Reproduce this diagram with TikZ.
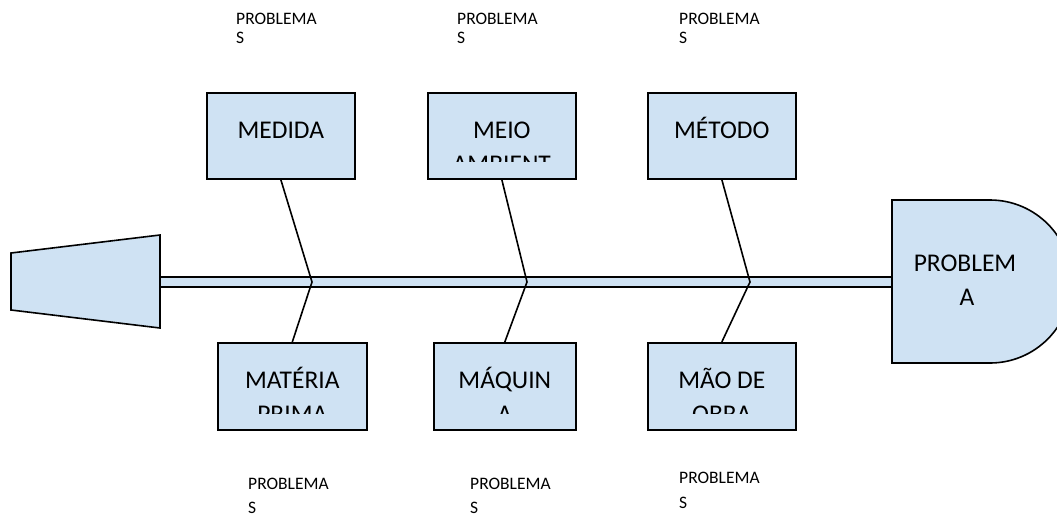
\documentclass[tikz,border=0pt]{standalone}
\usepackage{fontspec}
\setmainfont{Carlito}
\definecolor{boxblue}{HTML}{CFE2F3}
\tikzset{
  bone/.style={line width=1.6pt, draw=black},
  outline/.style={draw=black, line width=1.6pt, fill=boxblue},
  fishbox/.style={outline, inner sep=0pt, anchor=north west, minimum height=86pt},
  boxtext/.style={font=\fontsize{25.5}{30}\selectfont, inner sep=0pt, anchor=base},
  lbl/.style={font=\fontsize{17.5}{20}\selectfont, inner sep=0pt, anchor=base west},
}
\begin{document}
\begin{tikzpicture}[x=1pt,y=-1pt]
\useasboundingbox (0,0) rectangle (1057,517);
\clip (0,0) rectangle (1057,517);
% spine
\node[outline, line width=1.2pt, minimum width=733pt, minimum height=10pt, inner sep=0pt, anchor=west] (spine) at (160,282) {};
% tail
\draw[outline] (11,253) -- (160,235) -- (160,328) -- (11,310) -- cycle;
% head
\draw[outline] (892,200) -- (990,200) arc[start angle=90, end angle=-90, radius=81.5pt] -- (892,363) -- cycle;
\node[boxtext] (headA) at (965,271.5) {PROBLEM};
\node[boxtext] (headB) at (967,305) {A};
% boxes
\node[fishbox, minimum width=148pt] (medida) at (206,92) {};
\node[fishbox, minimum width=148pt] (meio) at (427,92) {};
\node[fishbox, minimum width=148pt] (metodo) at (647,92) {};
\node[fishbox, minimum width=149pt, minimum height=87pt] (materia) at (217,342) {};
\node[fishbox, minimum width=142pt, minimum height=87pt] (maquina) at (433,342) {};
\node[fishbox, minimum width=148pt, minimum height=87pt] (maodeobra) at (647,342) {};
% box texts (clipped like overflowing text boxes)
\begin{scope}
  \clip (medida.north west) rectangle ([yshift=18pt]medida.south east);
  \node[boxtext] (medidaT) at ([yshift=-46pt]medida.north) {MEDIDA};
\end{scope}
\begin{scope}
  \clip (meio.north west) rectangle ([yshift=18pt]meio.south east);
  \node[boxtext] (meioT) at ([yshift=-46pt]meio.north) {MEIO};
  \node[boxtext] (meioT2) at ([yshift=-80pt]meio.north) {AMBIENT};
\end{scope}
\begin{scope}
  \clip (metodo.north west) rectangle ([yshift=18pt]metodo.south east);
  \node[boxtext] (metodoT) at ([yshift=-46pt]metodo.north) {MÉTODO};
\end{scope}
\begin{scope}
  \clip (materia.north west) rectangle ([yshift=17pt]materia.south east);
  \node[boxtext] (materiaT) at ([yshift=-46pt]materia.north) {MATÉRIA};
  \node[boxtext] (materiaT2) at ([yshift=-80pt]materia.north) {PRIMA};
\end{scope}
\begin{scope}
  \clip (maquina.north west) rectangle ([yshift=17pt]maquina.south east);
  \node[boxtext] (maquinaT) at ([yshift=-46pt]maquina.north) {MÁQUIN};
  \node[boxtext] (maquinaT2) at ([yshift=-80pt]maquina.north) {A};
\end{scope}
\begin{scope}
  \clip (maodeobra.north west) rectangle ([yshift=17pt]maodeobra.south east);
  \node[boxtext] (maoT) at ([yshift=-46pt]maodeobra.north) {MÃO DE};
  \node[boxtext] (maoT2) at ([yshift=-80pt]maodeobra.north) {OBRA};
\end{scope}
% junctions on the spine
\coordinate (j1) at (312,282);
\coordinate (j2) at (527,282);
\coordinate (j3) at (750,282);
% bones
\draw[bone] (medida.south) -- (j1) -- (materia.north);
\draw[bone] (meio.south) -- (j2) -- (maquina.north);
\draw[bone] (metodo.south) -- (j3) -- (maodeobra.north);
% labels
\node[lbl] (pt1) at (236,24.5) {PROBLEMA};
\node[lbl] (pt1s) at (236,43.5) {S};
\node[lbl] (pt2) at (457,24.5) {PROBLEMA};
\node[lbl] (pt2s) at (457,43.5) {S};
\node[lbl] (pt3) at (679,24.5) {PROBLEMA};
\node[lbl] (pt3s) at (679,43.5) {S};
\node[lbl] (pb1) at (248,489) {PROBLEMA};
\node[lbl] (pb1s) at (248,513) {S};
\node[lbl] (pb2) at (470,489) {PROBLEMA};
\node[lbl] (pb2s) at (470,513) {S};
\node[lbl] (pb3) at (679,483) {PROBLEMA};
\node[lbl] (pb3s) at (679,508) {S};
\end{tikzpicture}
\end{document}
